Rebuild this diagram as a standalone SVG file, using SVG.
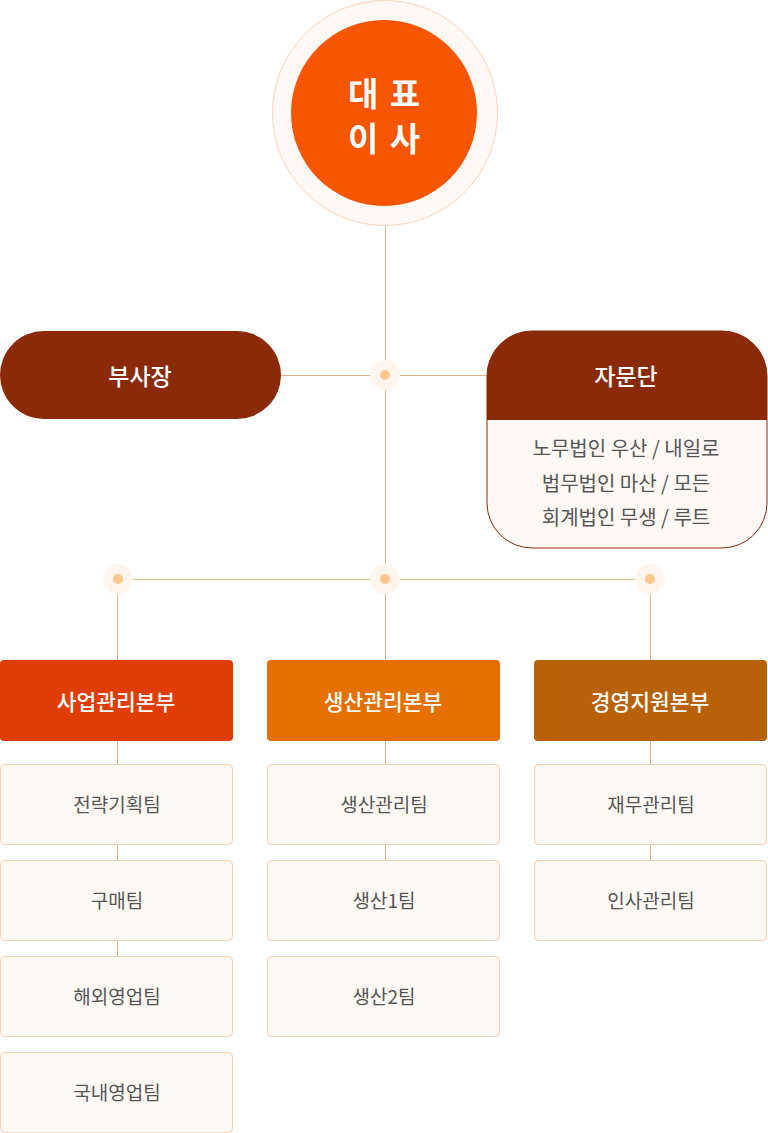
<svg xmlns="http://www.w3.org/2000/svg" width="768" height="1133" viewBox="0 0 768 1133">
<style>
text{font-family:"Noto Sans CJK KR","Noto Sans",sans-serif;text-anchor:middle;dominant-baseline:central}
.ln{stroke:#e2b487;stroke-width:1;fill:none}
.dotO{fill:#fff5ec}
.dotI{fill:#ffc78e}
.dept{font-size:21.5px;fill:#fff;font-weight:500}
.head{font-size:23px;fill:#fff;font-weight:500}
.team rect{fill:#fff9f6;stroke:#ffcfa8;stroke-width:1}
.team text{font-size:19px;fill:#555}
.adv{font-size:20px;fill:#555}
.ceo{font-size:33px;font-weight:700;fill:#fff;letter-spacing:2px}
</style>
<rect width="768" height="1133" fill="#fff"/>
<g id="connectors">
<line class="ln" x1="385.5" y1="226" x2="385.5" y2="660"/>
<line class="ln" x1="281" y1="375.5" x2="487" y2="375.5"/>
<line class="ln" x1="118" y1="579.5" x2="650" y2="579.5"/>
<line class="ln" x1="117.5" y1="579" x2="117.5" y2="660"/>
<line class="ln" x1="650.5" y1="579" x2="650.5" y2="660"/>
<line class="ln" x1="117.5" y1="740" x2="117.5" y2="956"/>
<line class="ln" x1="385.5" y1="740" x2="385.5" y2="860"/>
<line class="ln" x1="650.5" y1="740" x2="650.5" y2="860"/>
<circle class="dotO" cx="385" cy="375" r="15"/><circle class="dotI" cx="385" cy="375" r="5"/>
<circle class="dotO" cx="118" cy="579" r="15"/><circle class="dotI" cx="118" cy="579" r="5"/>
<circle class="dotO" cx="385" cy="579" r="15"/><circle class="dotI" cx="385" cy="579" r="5"/>
<circle class="dotO" cx="650" cy="579" r="15"/><circle class="dotI" cx="650" cy="579" r="5"/>
</g>
<g id="ceo">
<circle cx="385" cy="113" r="112.5" fill="#fff8f5" stroke="#fdd3b6" stroke-width="1"/>
<circle cx="384" cy="113" r="93" fill="#f75500"/>
<text class="ceo" x="385" y="92">대 표</text>
<text class="ceo" x="385" y="137">이 사</text>
</g>
<g id="vp">
<rect x="0" y="331" width="281" height="88" rx="44" fill="#8b2a09"/>
<text class="head" x="140" y="375">부사장</text>
</g>
<g id="advisory">
<path d="M487 376 A45 45 0 0 1 532 331 H722 A45 45 0 0 1 767 376 V503 A45 45 0 0 1 722 548 H532 A45 45 0 0 1 487 503 Z" fill="#fff8f5" stroke="#8b2a09" stroke-width="1"/>
<path d="M487 420 V376 A45 45 0 0 1 532 331 H722 A45 45 0 0 1 767 376 V420 Z" fill="#8b2a09"/>
<text class="head" x="626" y="375">자문단</text>
<text class="adv" x="626" y="447">노무법인 우산 / 내일로</text>
<text class="adv" x="626" y="482">법무법인 마산 / 모든</text>
<text class="adv" x="626" y="516">회계법인 무생 / 루트</text>
</g>
<g id="dept-biz">
<rect x="0" y="660" width="233" height="81" rx="4" fill="#e03d04"/>
<text class="dept" x="116" y="700">사업관리본부</text>
</g>
<g id="dept-prod">
<rect x="267" y="660" width="233" height="81" rx="4" fill="#e57000"/>
<text class="dept" x="383" y="700">생산관리본부</text>
</g>
<g id="dept-mgmt">
<rect x="534" y="660" width="233" height="81" rx="4" fill="#b86106"/>
<text class="dept" x="650" y="700">경영지원본부</text>
</g>
<g id="team-strategy" class="team"><rect x="0.5" y="764.5" width="232" height="80" rx="4"/><text x="117" y="803">전략기획팀</text></g>
<g id="team-purchase" class="team"><rect x="0.5" y="860.5" width="232" height="80" rx="4"/><text x="117" y="899">구매팀</text></g>
<g id="team-overseas" class="team"><rect x="0.5" y="956.5" width="232" height="80" rx="4"/><text x="117" y="995">해외영업팀</text></g>
<g id="team-domestic" class="team"><rect x="0.5" y="1052.5" width="232" height="80" rx="4"/><text x="117" y="1091">국내영업팀</text></g>
<g id="team-prodmgmt" class="team"><rect x="267.5" y="764.5" width="232" height="80" rx="4"/><text x="384" y="803">생산관리팀</text></g>
<g id="team-prod1" class="team"><rect x="267.5" y="860.5" width="232" height="80" rx="4"/><text x="384" y="899">생산1팀</text></g>
<g id="team-prod2" class="team"><rect x="267.5" y="956.5" width="232" height="80" rx="4"/><text x="384" y="995">생산2팀</text></g>
<g id="team-finance" class="team"><rect x="534.5" y="764.5" width="232" height="80" rx="4"/><text x="651" y="803">재무관리팀</text></g>
<g id="team-hr" class="team"><rect x="534.5" y="860.5" width="232" height="80" rx="4"/><text x="651" y="899">인사관리팀</text></g>
</svg>
